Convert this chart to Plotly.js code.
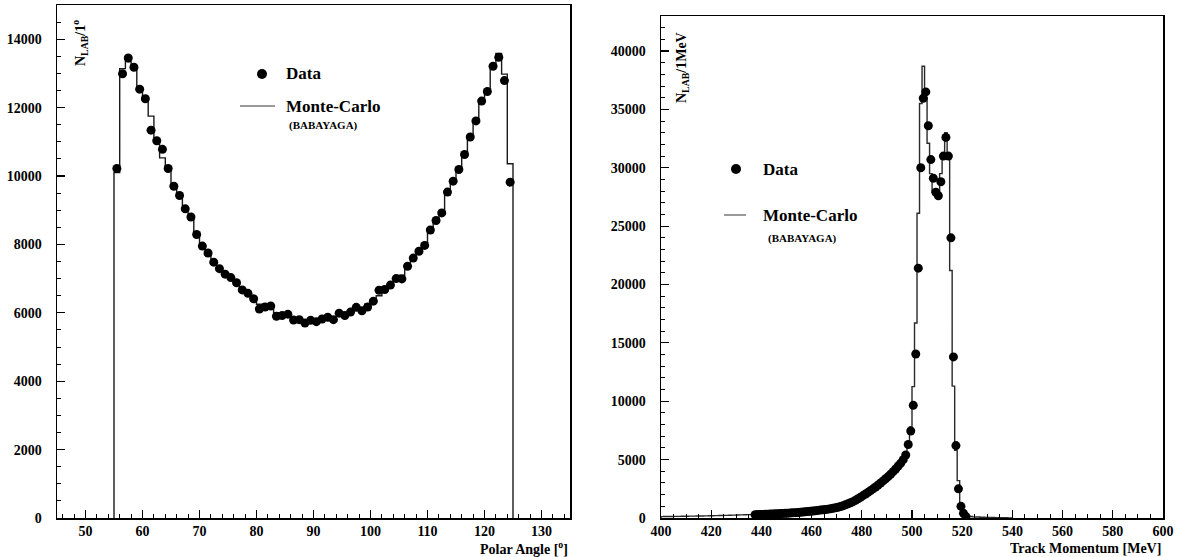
<!DOCTYPE html>
<html>
<head>
<meta charset="utf-8">
<script src="https://cdn.plot.ly/plotly-3.0.1.min.js"></script>
<style>html,body{margin:0;padding:0;background:#fff;}#chart{width:1182px;height:557px;}</style>
</head>
<body>
<div id="chart"></div>
<script>
// ---------- Left panel: Polar angle (1 degree bins) ----------
const angleCenters = [55.5,56.5,57.5,58.5,59.5,60.5,61.5,62.5,63.5,64.5,65.5,66.5,67.5,68.5,69.5,70.5,71.5,72.5,73.5,74.5,
  75.5,76.5,77.5,78.5,79.5,80.5,81.5,82.5,83.5,84.5,85.5,86.5,87.5,88.5,89.5,90.5,91.5,92.5,93.5,94.5,
  95.5,96.5,97.5,98.5,99.5,100.5,101.5,102.5,103.5,104.5,105.5,106.5,107.5,108.5,109.5,110.5,111.5,112.5,113.5,114.5,
  115.5,116.5,117.5,118.5,119.5,120.5,121.5,122.5,123.5,124.5];
const angleData = [10220,12990,13450,13180,12540,12260,11340,11030,10780,10220,9700,9430,9040,8800,8290,7950,7750,7480,7290,7130,
  7030,6880,6670,6570,6410,6110,6170,6200,5900,5920,5960,5790,5800,5700,5780,5740,5820,5870,5800,5990,
  5920,6020,6160,6060,6170,6340,6660,6680,6810,7000,6990,7360,7600,7800,7970,8420,8700,8920,9530,9850,
  10190,10630,11140,11610,12190,12470,13210,13470,12790,9820];
const angleMCLow = [55,56,57,58,59,60,61,62,63,64,65,66,67,68,69,70,71,72,73,74,
  75,76,77,78,79,80,81,82,83,84,85,86,87,88,89,90,91,92,93,94,
  95,96,97,98,99,100,101,102,103,104,105,106,107,108,109,110,111,112,113,114,
  115,116,117,118,119,120,121,122,123,124];
const angleMC = [10100,13140,13350,13200,12600,12250,11750,11000,10530,10250,9700,9400,9050,8750,8300,7950,7700,7500,7300,7150,
  7000,6850,6700,6550,6380,6250,6150,6150,6000,5950,5900,5850,5800,5780,5750,5780,5800,5800,5830,5900,
  5950,6000,6100,6150,6250,6350,6500,6650,6800,6950,7100,7300,7550,7750,8000,8350,8650,8950,9450,9850,
  10200,10650,11150,11650,12200,12450,13200,13580,12980,10360];
const angleBinWidth = 1;

// ---------- Right panel: Track momentum (1 MeV bins) ----------
const momCenters = [437.5,438.5,439.5,440.5,441.5,442.5,443.5,444.5,445.5,446.5,447.5,448.5,449.5,450.5,451.5,452.5,453.5,454.5,455.5,456.5,
  457.5,458.5,459.5,460.5,461.5,462.5,463.5,464.5,465.5,466.5,467.5,468.5,469.5,470.5,471.5,472.5,473.5,474.5,475.5,476.5,
  477.5,478.5,479.5,480.5,481.5,482.5,483.5,484.5,485.5,486.5,487.5,488.5,489.5,490.5,491.5,492.5,493.5,494.5,495.5,496.5,
  497.5,498.5,499.5,500.5,501.5,502.5,503.5,504.5,505.5,506.5,507.5,508.5,509.5,510.5,511.5,512.5,513.5,514.5,515.5,516.5,
  517.5,518.5,519.5,520.5,521.5];
const momData = [280,290,300,305,315,325,335,345,355,365,375,390,400,415,430,445,460,475,495,515,
  535,555,580,600,625,650,675,700,730,760,790,825,870,920,980,1050,1130,1220,1310,1400,
  1520,1650,1780,1920,2060,2200,2350,2500,2660,2830,3000,3180,3360,3550,3750,3970,4200,4450,4700,5000,
  5400,6300,7450,9650,14050,21400,30000,35950,36500,33600,30700,29100,27900,27600,28800,31000,32600,31000,24000,13800,
  6200,2500,1000,400,120];
const momMCLow = [400,401,402,403,404,405,406,407,408,409,410,411,412,413,414,415,416,417,418,419,
  420,421,422,423,424,425,426,427,428,429,430,431,432,433,434,435,436,437,438,439,
  440,441,442,443,444,445,446,447,448,449,450,451,452,453,454,455,456,457,458,459,
  460,461,462,463,464,465,466,467,468,469,470,471,472,473,474,475,476,477,478,479,
  480,481,482,483,484,485,486,487,488,489,490,491,492,493,494,495,496,497,498,499,
  500,501,502,503,504,505,506,507,508,509,510,511,512,513,514,515,516,517,518,519,
  520,521,522,523,524,525,526,527,528,529,530,531,532,533,534,535,536,537,538,539];
const momMC = [120,125,128,130,133,136,140,143,146,150,153,157,160,164,168,172,176,180,185,190,
  195,200,205,211,217,223,229,236,243,250,257,264,271,278,285,292,298,300,305,310,
  318,326,334,343,352,362,372,383,395,407,420,434,448,463,479,496,514,533,553,575,
  598,622,648,675,705,737,770,806,845,887,930,990,1060,1140,1230,1320,1420,1530,1650,1780,
  1910,2050,2190,2340,2470,2600,2780,2960,3150,3350,3560,3780,4000,4250,4520,4800,5150,5550,6200,7800,
  11250,16700,26100,35500,38700,36000,32100,29500,27900,27800,27900,29500,31250,33000,30950,21200,11300,5800,3200,1300,
  550,280,180,130,100,90,80,70,60,55,50,45,40,35,30,25,20,15,10,5];
const momBinWidth = 1;

function stepXY(lows, vals, width) {
  const xs = [lows[0]], ys = [0];
  for (let i = 0; i < lows.length; i++) { xs.push(lows[i]); ys.push(vals[i]); }
  const end = lows[lows.length - 1] + width;
  xs.push(end); ys.push(vals[vals.length - 1]);
  xs.push(end); ys.push(0);
  return {x: xs, y: ys};
}

const aStep = stepXY(angleMCLow, angleMC, angleBinWidth);
const mStep = stepXY(momMCLow, momMC, momBinWidth);

const W = 1182, H = 557;
const px = v => v / W;
const py = v => 1 - v / H;
const FONT = 'Liberation Serif, Times New Roman, serif';

const traces = [
  {x: aStep.x, y: aStep.y, mode: 'lines', line: {shape: 'hv', color: '#1a1a1a', width: 1.4}, xaxis: 'x', yaxis: 'y', hoverinfo: 'skip'},
  {x: angleCenters, y: angleData, mode: 'markers', marker: {color: '#000', size: 9}, xaxis: 'x', yaxis: 'y'},
  {x: mStep.x, y: mStep.y, mode: 'lines', line: {shape: 'hv', color: '#2a2a2a', width: 1.4}, xaxis: 'x2', yaxis: 'y2', hoverinfo: 'skip'},
  {x: momCenters, y: momData, mode: 'markers', marker: {color: '#000', size: 9}, xaxis: 'x2', yaxis: 'y2'}
];

const tickfont = {family: FONT, size: 14, color: '#000', weight: 'bold'};
function axis(extra) {
  return Object.assign({
    showline: true, linecolor: '#000', linewidth: 1.5, mirror: true,
    ticks: 'inside', ticklen: 8, tickwidth: 1.2, tickcolor: '#000',
    showgrid: false, zeroline: false, tickfont: tickfont, tickformat: 'd',
    fixedrange: true
  }, extra);
}

const layout = {
  width: W, height: H,
  margin: {l: 0, r: 0, t: 0, b: 0},
  paper_bgcolor: '#fff', plot_bgcolor: '#fff',
  showlegend: false,
  xaxis: axis({domain: [px(57), px(570)], range: [45, 135], dtick: 10, tick0: 50, anchor: 'y', ticklabelstandoff: 0,
    minor: {dtick: 2, ticklen: 4, ticks: 'inside', tickcolor: '#000', tickwidth: 1}}),
  yaxis: axis({domain: [1 - 518 / H, 1 - 5 / H], range: [0, 15000], dtick: 2000, anchor: 'x', ticklabelstandoff: 11,
    minor: {dtick: 500, ticklen: 4, ticks: 'inside', tickcolor: '#000', tickwidth: 1}}),
  xaxis2: axis({domain: [px(661), px(1163)], range: [400, 600], dtick: 20, anchor: 'y2', ticklabelstandoff: 0,
    minor: {dtick: 5, ticklen: 4, ticks: 'inside', tickcolor: '#000', tickwidth: 1}}),
  yaxis2: axis({domain: [1 - 518 / H, 1 - 16 / H], range: [0, 43000], dtick: 5000, anchor: 'x2', ticklabelstandoff: 11,
    minor: {dtick: 1000, ticklen: 4, ticks: 'inside', tickcolor: '#000', tickwidth: 1}}),
  shapes: [
    {type: 'circle', xref: 'paper', yref: 'paper', x0: px(257), x1: px(267), y0: py(79), y1: py(69), fillcolor: '#000', line: {width: 0}},
    {type: 'line', xref: 'paper', yref: 'paper', x0: px(240), x1: px(275), y0: py(106), y1: py(106), line: {color: '#777', width: 1.5}},
    {type: 'circle', xref: 'paper', yref: 'paper', x0: px(731), x1: px(741), y0: py(174), y1: py(164), fillcolor: '#000', line: {width: 0}},
    {type: 'line', xref: 'paper', yref: 'paper', x0: px(724), x1: px(746), y0: py(215), y1: py(215), line: {color: '#777', width: 1.5}}
  ],
  annotations: [
    {xref: 'paper', yref: 'paper', x: px(284), y: py(74), xanchor: 'left', yanchor: 'middle', showarrow: false,
      text: 'Data', font: {family: FONT, size: 17, color: '#000', weight: 'bold'}},
    {xref: 'paper', yref: 'paper', x: px(284), y: py(106), xanchor: 'left', yanchor: 'middle', showarrow: false,
      text: 'Monte-Carlo', font: {family: FONT, size: 17, color: '#000', weight: 'bold'}},
    {xref: 'paper', yref: 'paper', x: px(287), y: py(125), xanchor: 'left', yanchor: 'middle', showarrow: false,
      text: '(BABAYAGA)', font: {family: FONT, size: 11, color: '#000', weight: 'bold'}},
    {xref: 'paper', yref: 'paper', x: px(761), y: py(169), xanchor: 'left', yanchor: 'middle', showarrow: false,
      text: 'Data', font: {family: FONT, size: 17, color: '#000', weight: 'bold'}},
    {xref: 'paper', yref: 'paper', x: px(761), y: py(215), xanchor: 'left', yanchor: 'middle', showarrow: false,
      text: 'Monte-Carlo', font: {family: FONT, size: 17, color: '#000', weight: 'bold'}},
    {xref: 'paper', yref: 'paper', x: px(766), y: py(238), xanchor: 'left', yanchor: 'middle', showarrow: false,
      text: '(BABAYAGA)', font: {family: FONT, size: 11, color: '#000', weight: 'bold'}},
    {xref: 'paper', yref: 'paper', x: px(80), y: py(43), xanchor: 'center', yanchor: 'middle', showarrow: false, textangle: -90,
      text: 'N<sub>LAB</sub>/1<sup>o</sup>', font: {family: FONT, size: 14, color: '#000', weight: 'bold'}},
    {xref: 'paper', yref: 'paper', x: px(682), y: py(68), xanchor: 'center', yanchor: 'middle', showarrow: false, textangle: -90,
      text: 'N<sub>LAB</sub>/1MeV', font: {family: FONT, size: 14, color: '#000', weight: 'bold'}},
    {xref: 'paper', yref: 'paper', x: px(570), y: py(548), xanchor: 'right', yanchor: 'middle', showarrow: false,
      text: 'Polar Angle [<sup>o</sup>]', font: {family: FONT, size: 14, color: '#000', weight: 'bold'}},
    {xref: 'paper', yref: 'paper', x: px(1163), y: py(548), xanchor: 'right', yanchor: 'middle', showarrow: false,
      text: 'Track Momentum [MeV]', font: {family: FONT, size: 14, color: '#000', weight: 'bold'}}
  ]
};

Plotly.newPlot('chart', traces, layout, {staticPlot: true, displayModeBar: false});
</script>
</body>
</html>
